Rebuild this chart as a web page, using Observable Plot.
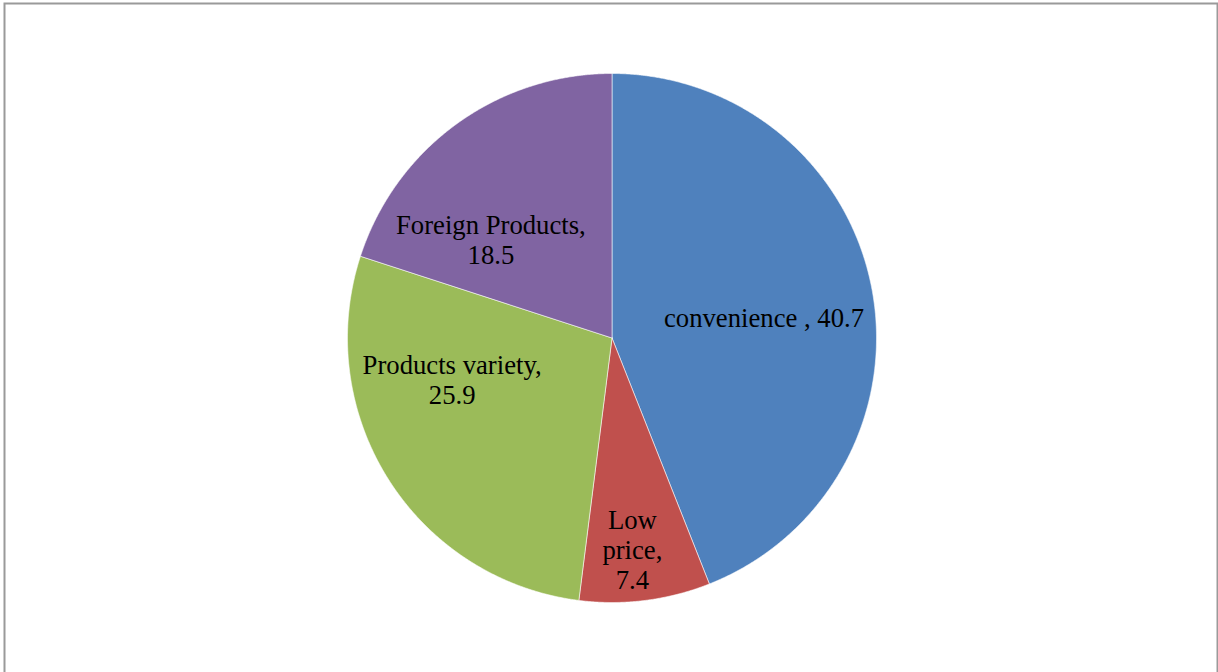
<!DOCTYPE html>
<html>
<head>
<meta charset="utf-8">
<script src="https://cdn.jsdelivr.net/npm/d3@7"></script>
<script src="https://cdn.jsdelivr.net/npm/@observablehq/plot@0.6"></script>
<style>
  html, body { margin: 0; padding: 0; background: #fff; overflow: hidden; }
</style>
</head>
<body>
<div id="chart"></div>
<script>
// ---- data ----
const categories = ["convenience", "Low price", "Products variety", "Foreign Products"];
const values = [40.7, 7.4, 25.9, 18.5];
const labelTexts = ["convenience , 40.7", "Low\nprice,\n7.4", "Products variety,\n25.9", "Foreign Products,\n18.5"];
const colors = ["#4F81BD", "#C0504D", "#9BBB59", "#8064A2"];

// ---- layout (not data) ----
const W = 1218, H = 672;
const cx = 611.5, cy = 337.5, R = 264.5;
const labelRadius = [0.58, 0.804, 0.624, 0.59];   // fraction of radius
const labelAngleShift = [3.1, 1.7, 18, -14.9];      // degrees from slice middle

const arcs = d3.pie().sort(null).startAngle(0).endAngle(2 * Math.PI)(values);

// polygon points for each slice (unit radius, y up, angle clockwise from 12 o'clock)
const slicePts = [];
arcs.forEach((a, i) => {
  const name = categories[i];
  slicePts.push({name, x: 0, y: 0});
  const n = Math.max(2, Math.ceil((a.endAngle - a.startAngle) / 0.004));
  for (let k = 0; k <= n; k++) {
    const t = a.startAngle + (a.endAngle - a.startAngle) * k / n;
    slicePts.push({name, x: Math.sin(t), y: Math.cos(t)});
  }
  slicePts.push({name, x: 0, y: 0});
});

const labels = arcs.map((a, i) => {
  const mid = (a.startAngle + a.endAngle) / 2 + labelAngleShift[i] * Math.PI / 180;
  return {text: labelTexts[i], x: Math.sin(mid) * labelRadius[i], y: Math.cos(mid) * labelRadius[i]};
});

const chart = Plot.plot({
  width: W,
  height: H,
  margin: 0,
  x: {domain: [-cx / R, (W - cx) / R], axis: null},
  y: {domain: [-(H - cy) / R, cy / R], axis: null},
  color: {domain: categories, range: colors},
  style: {fontFamily: "'Liberation Serif', 'Times New Roman', serif", background: "#fff"},
  marks: [
    Plot.line(slicePts, {x: "x", y: "y", z: "name", fill: "name", stroke: "#ffffff", strokeWidth: 0.8, strokeOpacity: 0.7, curve: "linear"}),
    Plot.text(labels, {x: "x", y: "y", text: "text", fontSize: 26.7, lineHeight: 1.124, fill: "#000", textAnchor: "middle", fontFamily: "'Liberation Serif', 'Times New Roman', serif"}),
    Plot.frame({stroke: "#9a9a9a", strokeWidth: 2, insetLeft: 4, insetTop: 3, insetRight: 1, insetBottom: -10})
  ]
});

document.getElementById("chart").appendChild(chart);
</script>
</body>
</html>
